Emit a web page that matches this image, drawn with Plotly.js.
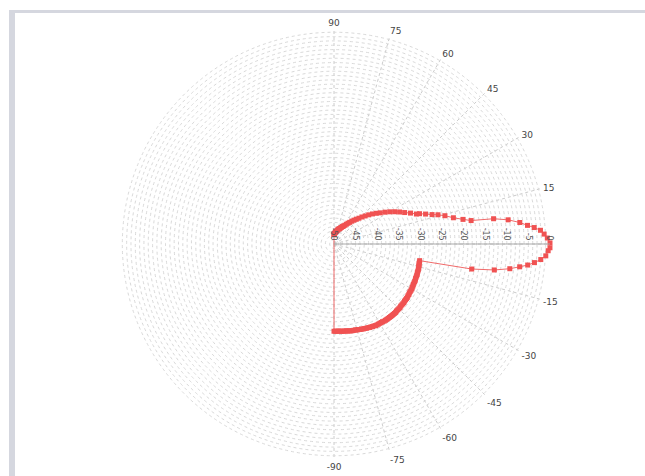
<!DOCTYPE html>
<html>
<head>
<meta charset="utf-8">
<script src="https://cdn.plot.ly/plotly-3.0.1.min.js"></script>
<style>
  html, body { margin: 0; padding: 0; background: #ffffff; }
  #wrap { position: relative; width: 645px; height: 476px; overflow: hidden; }
  #chart { position: absolute; left: 0; top: 0; width: 645px; height: 476px; }
  .frameTop { position: absolute; left: 9px; top: 10px; width: 636px; height: 3px; background: #d5d7df; z-index: 5; }
  .frameLeft { position: absolute; left: 9px; top: 10px; width: 6px; height: 466px; background: #d5d7df; z-index: 5; }
</style>
</head>
<body>
<div id="wrap">
  <div id="chart"></div>
  <div class="frameTop"></div>
  <div class="frameLeft"></div>
</div>
<script>
// ---- data (angle in degrees, level in dB) ----
var shoulderTheta = [90, 88, 86, 84, 82, 80, 78, 76, 74, 72, 70, 68, 66, 64, 62, 60, 58, 56, 54, 52, 50, 48, 46, 44, 42, 40, 38, 36, 34, 32, 30, 28, 26, 24, 22, 20];
var shoulderR = [-47.8, -47.6, -47.5, -47.3, -47.2, -47.0, -46.9, -46.7, -46.5, -46.3, -46.2, -46.0, -45.8, -45.5, -45.3, -45.0, -44.6, -44.2, -43.8, -43.3, -42.8, -42.3, -41.7, -41.0, -40.3, -39.5, -38.7, -37.9, -37.1, -36.1, -35.1, -34.1, -33.1, -32.1, -30.9, -29.7];

var mainUpperTheta = [19.5, 18.1, 16.7, 15.7, 14.3, 12.4, 10.8, 9.7, 9.0, 7.9, 6.6, 5.5, 4.7, 3.8, 2.7, 1.6, 0.3];
var mainUpperR = [-29.0, -27.7, -26.3, -25.0, -23.5, -21.7, -19.6, -17.8, -12.6, -9.3, -6.7, -5.0, -3.5, -2.1, -1.3, -0.6, 0.0];

var mainLowerTheta = [-1.0, -1.8, -3.2, -4.3, -5.3, -6.2, -7.0, -8.0, -9.2, -10.3];
var mainLowerR = [0.0, -0.4, -0.9, -2.0, -3.4, -4.9, -6.7, -8.9, -12.4, -17.6];

var floorTheta = [-11, -12, -13, -14, -15, -16, -17, -18, -19, -20, -21, -22, -23, -24, -25, -26, -27, -28, -29, -30, -31, -32, -33, -34, -35, -36, -37, -38, -39, -40, -41, -42, -43, -44, -45, -46, -47, -48, -49, -50, -51, -52, -53, -54, -55, -56, -57, -58, -59, -60, -61, -62, -63, -64, -65, -66, -67, -68, -69, -70, -71, -72, -73, -74, -75, -76, -77, -78, -79, -80, -81, -82, -83, -84, -85, -86, -87, -88, -89, -90];
var floorR = [-29.8, -29.8, -29.8, -29.7, -29.7, -29.6, -29.6, -29.6, -29.6, -29.5, -29.5, -29.5, -29.5, -29.4, -29.4, -29.4, -29.4, -29.3, -29.3, -29.2, -29.2, -29.2, -29.2, -29.1, -29.1, -29.0, -29.0, -29.0, -29.0, -28.9, -28.9, -28.9, -28.9, -28.8, -28.8, -28.8, -28.8, -28.7, -28.7, -28.7, -28.7, -28.7, -28.7, -28.7, -28.7, -28.7, -28.7, -28.8, -28.8, -28.8, -28.8, -28.8, -28.8, -28.9, -28.9, -29.0, -29.0, -29.1, -29.1, -29.2, -29.2, -29.3, -29.3, -29.4, -29.4, -29.5, -29.5, -29.5, -29.5, -29.6, -29.6, -29.7, -29.7, -29.7, -29.7, -29.8, -29.8, -29.8, -29.8, -29.8];

var angleTicks = [90, 75, 60, 45, 30, 15, 0, 345, 330, 315, 300, 285, 270];
var angleLabels = ['90', '75', '60', '45', '30', '15', '', '-15', '-30', '-45', '-60', '-75', '-90'];

var levelTicks = [];
var levelLabels = [];
for (var v = -50; v <= 0; v++) {
  levelTicks.push(v);
  levelLabels.push(v % 5 === 0 ? String(v) : '');
}

// path closes back to the first sample
var theta = shoulderTheta.concat(mainUpperTheta, mainLowerTheta, floorTheta, [shoulderTheta[0]]);
var r = shoulderR.concat(mainUpperR, mainLowerR, floorR, [shoulderR[0]]);

var trace = {
  type: 'scatterpolar',
  mode: 'lines+markers',
  theta: theta,
  r: r,
  line: { color: '#f06a6a', width: 1 },
  marker: { color: '#f05252', size: 5, symbol: 'square' },
  hoverinfo: 'skip',
  showlegend: false
};

var layout = {
  width: 645,
  height: 476,
  margin: { l: 0, r: 0, t: 0, b: 0 },
  paper_bgcolor: '#ffffff',
  font: { family: 'DejaVu Sans, Arial, sans-serif', size: 9, color: '#444444' },
  showlegend: false,
  polar: {
    domain: { x: [118 / 645, 550 / 645], y: [1 - 460 / 476, 1 - 28 / 476] },
    bgcolor: '#ffffff',
    radialaxis: {
      range: [-50, 0],
      angle: 0,
      tickvals: levelTicks,
      ticktext: levelLabels,
      tickangle: 90,
      side: 'counterclockwise',
      ticks: '',
      showline: true,
      linecolor: '#a8a8a8',
      linewidth: 1,
      gridcolor: '#d9d9d9',
      griddash: 'dot',
      gridwidth: 1,
      tickfont: { size: 8, color: '#555555' }
    },
    angularaxis: {
      direction: 'counterclockwise',
      rotation: 0,
      thetaunit: 'degrees',
      tickmode: 'array',
      tickvals: angleTicks,
      ticktext: angleLabels,
      ticks: '',
      showline: false,
      gridcolor: '#cccccc',
      griddash: 'dot',
      gridwidth: 1,
      tickfont: { size: 9, color: '#444444' }
    }
  }
};

Plotly.newPlot('chart', [trace], layout, { displayModeBar: false, staticPlot: true });
</script>
</body>
</html>
